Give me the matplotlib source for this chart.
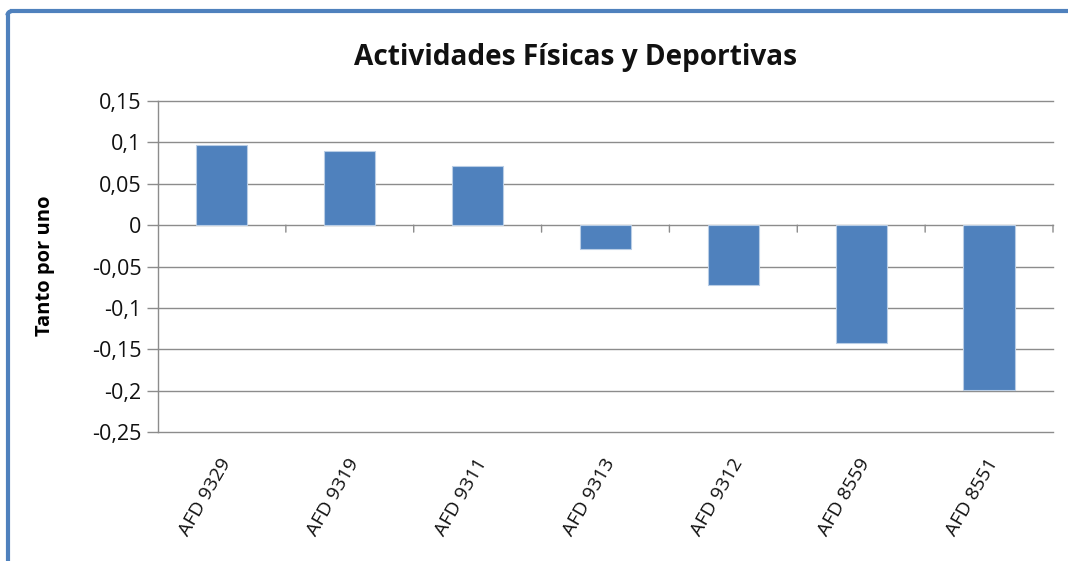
import matplotlib
matplotlib.use("Agg")
import matplotlib.pyplot as plt
from matplotlib.lines import Line2D
from matplotlib.patches import Arc
from matplotlib.transforms import ScaledTranslation

categories = ["AFD 9329", "AFD 9319", "AFD 9311", "AFD 9313", "AFD 9312", "AFD 8559", "AFD 8551"]
values = [0.097, 0.089, 0.072, -0.029, -0.072, -0.143, -0.199]
yticks = [0.15, 0.1, 0.05, 0, -0.05, -0.1, -0.15, -0.2, -0.25]
ytick_labels = ["0,15", "0,1", "0,05", "0", "-0,05", "-0,1", "-0,15", "-0,2", "-0,25"]
title = "Actividades Físicas y Deportivas"
ylabel = "Tanto por uno"

plt.rcParams['font.family'] = ['Open Sans', 'DejaVu Sans']

W, H = 1068, 561
fig = plt.figure(figsize=(W / 100, H / 100), dpi=100)
fig.patch.set_facecolor("white")

ax = fig.add_axes([158 / W, 1 - 432 / H, (1053 - 158) / W, (432 - 101) / H])

x = list(range(len(categories)))
ax.bar(x, values, width=0.4, color="#4F81BD", edgecolor="#B9CDE5", linewidth=0.8, zorder=3)

ax.set_xlim(-0.5, len(categories) - 0.5)
ax.set_ylim(-0.25, 0.15)

grid_c = "#8C8C8C"
ax.set_yticks(yticks)
ax.set_yticklabels(ytick_labels)
ax.tick_params(axis="y", direction="out", length=8, width=1, color=grid_c, labelsize=15.5, pad=4, labelcolor="#111111")
ax.yaxis.grid(True, color=grid_c, linewidth=1, zorder=0)
for gl in ax.get_ygridlines():
    gl.set_clip_on(False)

# x tick labels at category centres
ax.set_xticks(x)
ax.set_xticklabels(categories, rotation=60, ha="right", va="center", rotation_mode="anchor", fontsize=14, color="#111111")
ax.tick_params(axis="x", length=0, pad=20)
shift = ScaledTranslation(5 / 100, 0, fig.dpi_scale_trans)
for lbl in ax.get_xticklabels():
    lbl.set_transform(lbl.get_transform() + shift)

# category boundary tick marks hanging below the zero line
for i in range(len(categories)):
    bx = i + 0.5
    ax.annotate("", xy=(bx, 0), xytext=(0, -7), textcoords="offset pixels",
                arrowprops=dict(arrowstyle="-", color=grid_c, lw=1, shrinkA=0, shrinkB=0))

for s in ["top", "right", "bottom"]:
    ax.spines[s].set_visible(False)
ax.spines["left"].set_color(grid_c)
ax.spines["left"].set_linewidth(1)

ax.set_ylabel(ylabel, fontsize=14.5, fontweight="bold")
ax.yaxis.set_label_coords(-103 / (1053 - 158), (432 - 266) / (432 - 101))

fig.text(576 / W, 1 - 58 / H, title, ha="center", va="center", fontsize=20.2, fontweight="bold", color="#111111")

# blue outer frame
fc = "#4F81BD"
fig.add_artist(Line2D([7.5 / W, 7.5 / W], [0, 1 - 15 / H], transform=fig.transFigure, color=fc, linewidth=3))
fig.add_artist(Line2D([11.5 / W, 1.0], [1 - 11.3 / H, 1 - 11.3 / H], transform=fig.transFigure, color=fc, linewidth=3))
fig.add_artist(Arc((11.5 / W, 1 - 15.3 / H), 8 / W, 8 / H, theta1=90, theta2=180, transform=fig.transFigure, color=fc, linewidth=3))

fig.savefig("out.png", dpi=100, facecolor="white")
